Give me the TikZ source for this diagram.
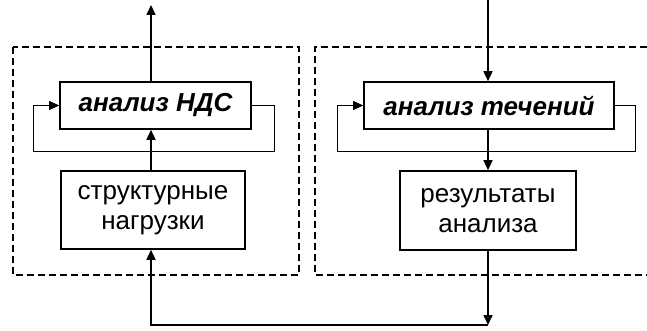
\documentclass[tikz,border=0pt]{standalone}
\usepackage{fontspec}
\setmainfont{Liberation Sans}
\usetikzlibrary{arrows.meta,calc}
\begin{document}
\begin{tikzpicture}[x=1pt,y=-1pt,
  block/.style={draw,line width=1.6pt,inner sep=0pt,align=center,
    font=\fontsize{26}{30}\selectfont},
  title/.style={block,font=\fontsize{26}{30}\selectfont\bfseries\itshape},
  arr/.style={line width=1.6pt,-{Triangle[length=10pt,width=9pt]}},
  fb/.style={line width=0.8pt},
  fbarr/.style={fb,-{Triangle[length=10pt,width=9pt]}},
  zone/.style={line width=1.3pt,dash pattern=on 7pt off 4pt}]
\useasboundingbox (0,0) rectangle (647,331);

% stress-strain side
\node[title,minimum width=191pt,minimum height=47pt] (nds) at (155.5,105.5) {анализ НДС};
\node[block,minimum width=184pt,minimum height=78pt] (load) at (153,210) {структурные\\нагрузки};

% flow side
\node[title,minimum width=250pt,minimum height=47pt] (flow) at (489,105.5) {анализ течений};
\node[block,minimum width=176pt,minimum height=79pt] (res) at (488,210.5) {результаты\\анализа};

% auxiliary points
\coordinate (outL) at (151,5);
\coordinate (inR) at (488,0);
\coordinate (botL) at (151,325);
\coordinate (botR) at (488,325);
\coordinate (loopLa) at (274,151);
\coordinate (loopLb) at (33,151);
\coordinate (loopRa) at (635,151);
\coordinate (loopRb) at (337,151);

% dashed zones
\draw[zone] (13,47) rectangle (299,275);
\draw[zone] (647,47) -- (315,47) -- (315,275) -- (647,275);

% connectors
\draw[arr] (nds.north -| outL) -- (outL);
\draw[arr] (load.north -| outL) -- (nds.south -| outL);
\draw[fbarr] (nds.east) -| (loopLa) -- (loopLb) |- (nds.west);

\draw[arr] (inR) -- (flow.north -| inR);
\draw[arr] (flow.south -| inR) -- (res.north -| inR);
\draw[fbarr] (flow.east) -| (loopRa) -- (loopRb) |- (flow.west);

\draw[arr] (res.south -| botR) -- (botR);
\draw[arr] (botR) -- (botL) -- (load.south -| botL);
\end{tikzpicture}
\end{document}
